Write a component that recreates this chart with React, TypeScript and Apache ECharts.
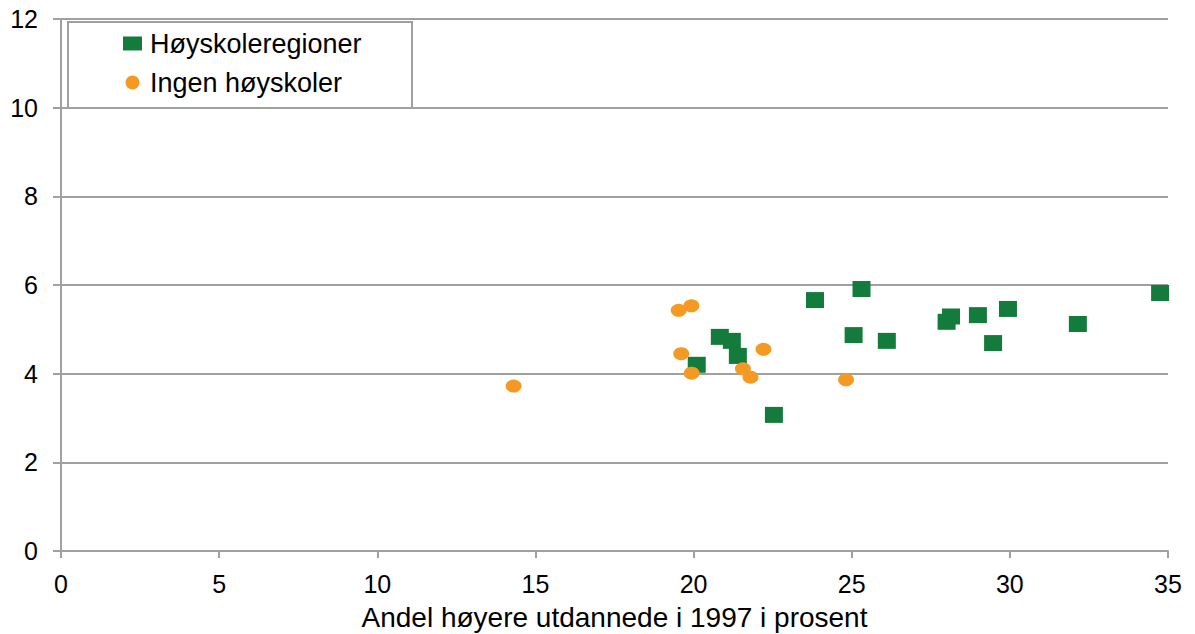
import React, { useEffect, useRef } from "react";
import * as echarts from "echarts";

const seriesNames = ["Høyskoleregioner", "Ingen høyskoler"];
const xAxisName = "Andel høyere utdannede i 1997 i prosent";

const hoyskoleX = [20.10, 20.83, 21.21, 21.40, 22.54, 23.84, 25.31, 25.06, 26.11, 28.00, 28.14, 28.99, 29.47, 29.94, 32.15, 34.75];
const hoyskoleY = [4.20, 4.83, 4.74, 4.40, 3.07, 5.66, 5.91, 4.87, 4.74, 5.17, 5.29, 5.32, 4.69, 5.46, 5.12, 5.82];

const ingenX = [14.31, 19.53, 19.93, 19.61, 19.94, 21.56, 21.80, 22.21, 24.82];
const ingenY = [3.72, 5.43, 5.53, 4.45, 4.01, 4.11, 3.92, 4.55, 3.86];

const green = "#137c3d";
const orange = "#f49a22";
const gridGrey = "#a0a0a0";
const font = "'Liberation Sans', Arial, sans-serif";

export default function App() {
  const ref = useRef<HTMLDivElement>(null);
  useEffect(() => {
    if (!ref.current) return;
    const chart = echarts.init(ref.current, null, { renderer: "svg" });
    chart.setOption({
      animation: false,
      backgroundColor: "#ffffff",
      textStyle: { fontFamily: font },
      grid: {
        left: 61,
        right: 27,
        top: 19,
        bottom: 83,
        containLabel: false,
        outerBoundsMode: "none",
      },
      graphic: [
        {
          type: "rect",
          z: 50,
          shape: { x: 68, y: 22, width: 344, height: 86 },
          style: { fill: "#ffffff", stroke: gridGrey, lineWidth: 2 },
        },
      ],
      legend: {
        orient: "vertical",
        left: 123,
        top: 30,
        z: 60,
        itemGap: 12,
        itemWidth: 19,
        itemHeight: 14,
        padding: 0,
        textStyle: { fontSize: 27, color: "#000", fontFamily: font, padding: [0, 0, 0, 3] },
        data: [
          { name: seriesNames[0], icon: "rect" },
          { name: seriesNames[1], icon: "circle" },
        ],
      },
      xAxis: {
        type: "value",
        min: 0,
        max: 35,
        interval: 5,
        name: xAxisName,
        nameLocation: "middle",
        nameGap: 52,
        nameTextStyle: { fontSize: 28, color: "#000", fontFamily: font },
        axisLine: { show: true, lineStyle: { color: gridGrey, width: 2 } },
        axisTick: { show: true, length: 7, lineStyle: { color: gridGrey, width: 2 } },
        axisLabel: { fontSize: 25, color: "#000", margin: 20, fontFamily: font },
        splitLine: { show: false },
      },
      yAxis: {
        type: "value",
        min: 0,
        max: 12,
        interval: 2,
        axisLine: { show: true, lineStyle: { color: gridGrey, width: 2 } },
        axisTick: { show: true, length: 8, lineStyle: { color: gridGrey, width: 2 } },
        axisLabel: { fontSize: 25, color: "#000", margin: 23, fontFamily: font },
        splitLine: { show: true, lineStyle: { color: gridGrey, width: 2 } },
      },
      series: [
        {
          name: seriesNames[0],
          type: "scatter",
          symbol: "rect",
          symbolSize: [18, 16],
          itemStyle: { color: green, opacity: 1 },
          data: hoyskoleX.map((x, i) => [x, hoyskoleY[i]]),
        },
        {
          name: seriesNames[1],
          type: "scatter",
          symbol: "circle",
          symbolSize: [16, 13],
          itemStyle: { color: orange, opacity: 1 },
          data: ingenX.map((x, i) => [x, ingenY[i]]),
        },
      ],
    });
    return () => chart.dispose();
  }, []);
  return <div ref={ref} style={{ width: 1195, height: 634, position: "absolute", left: 0, top: 0 }} />;
}
